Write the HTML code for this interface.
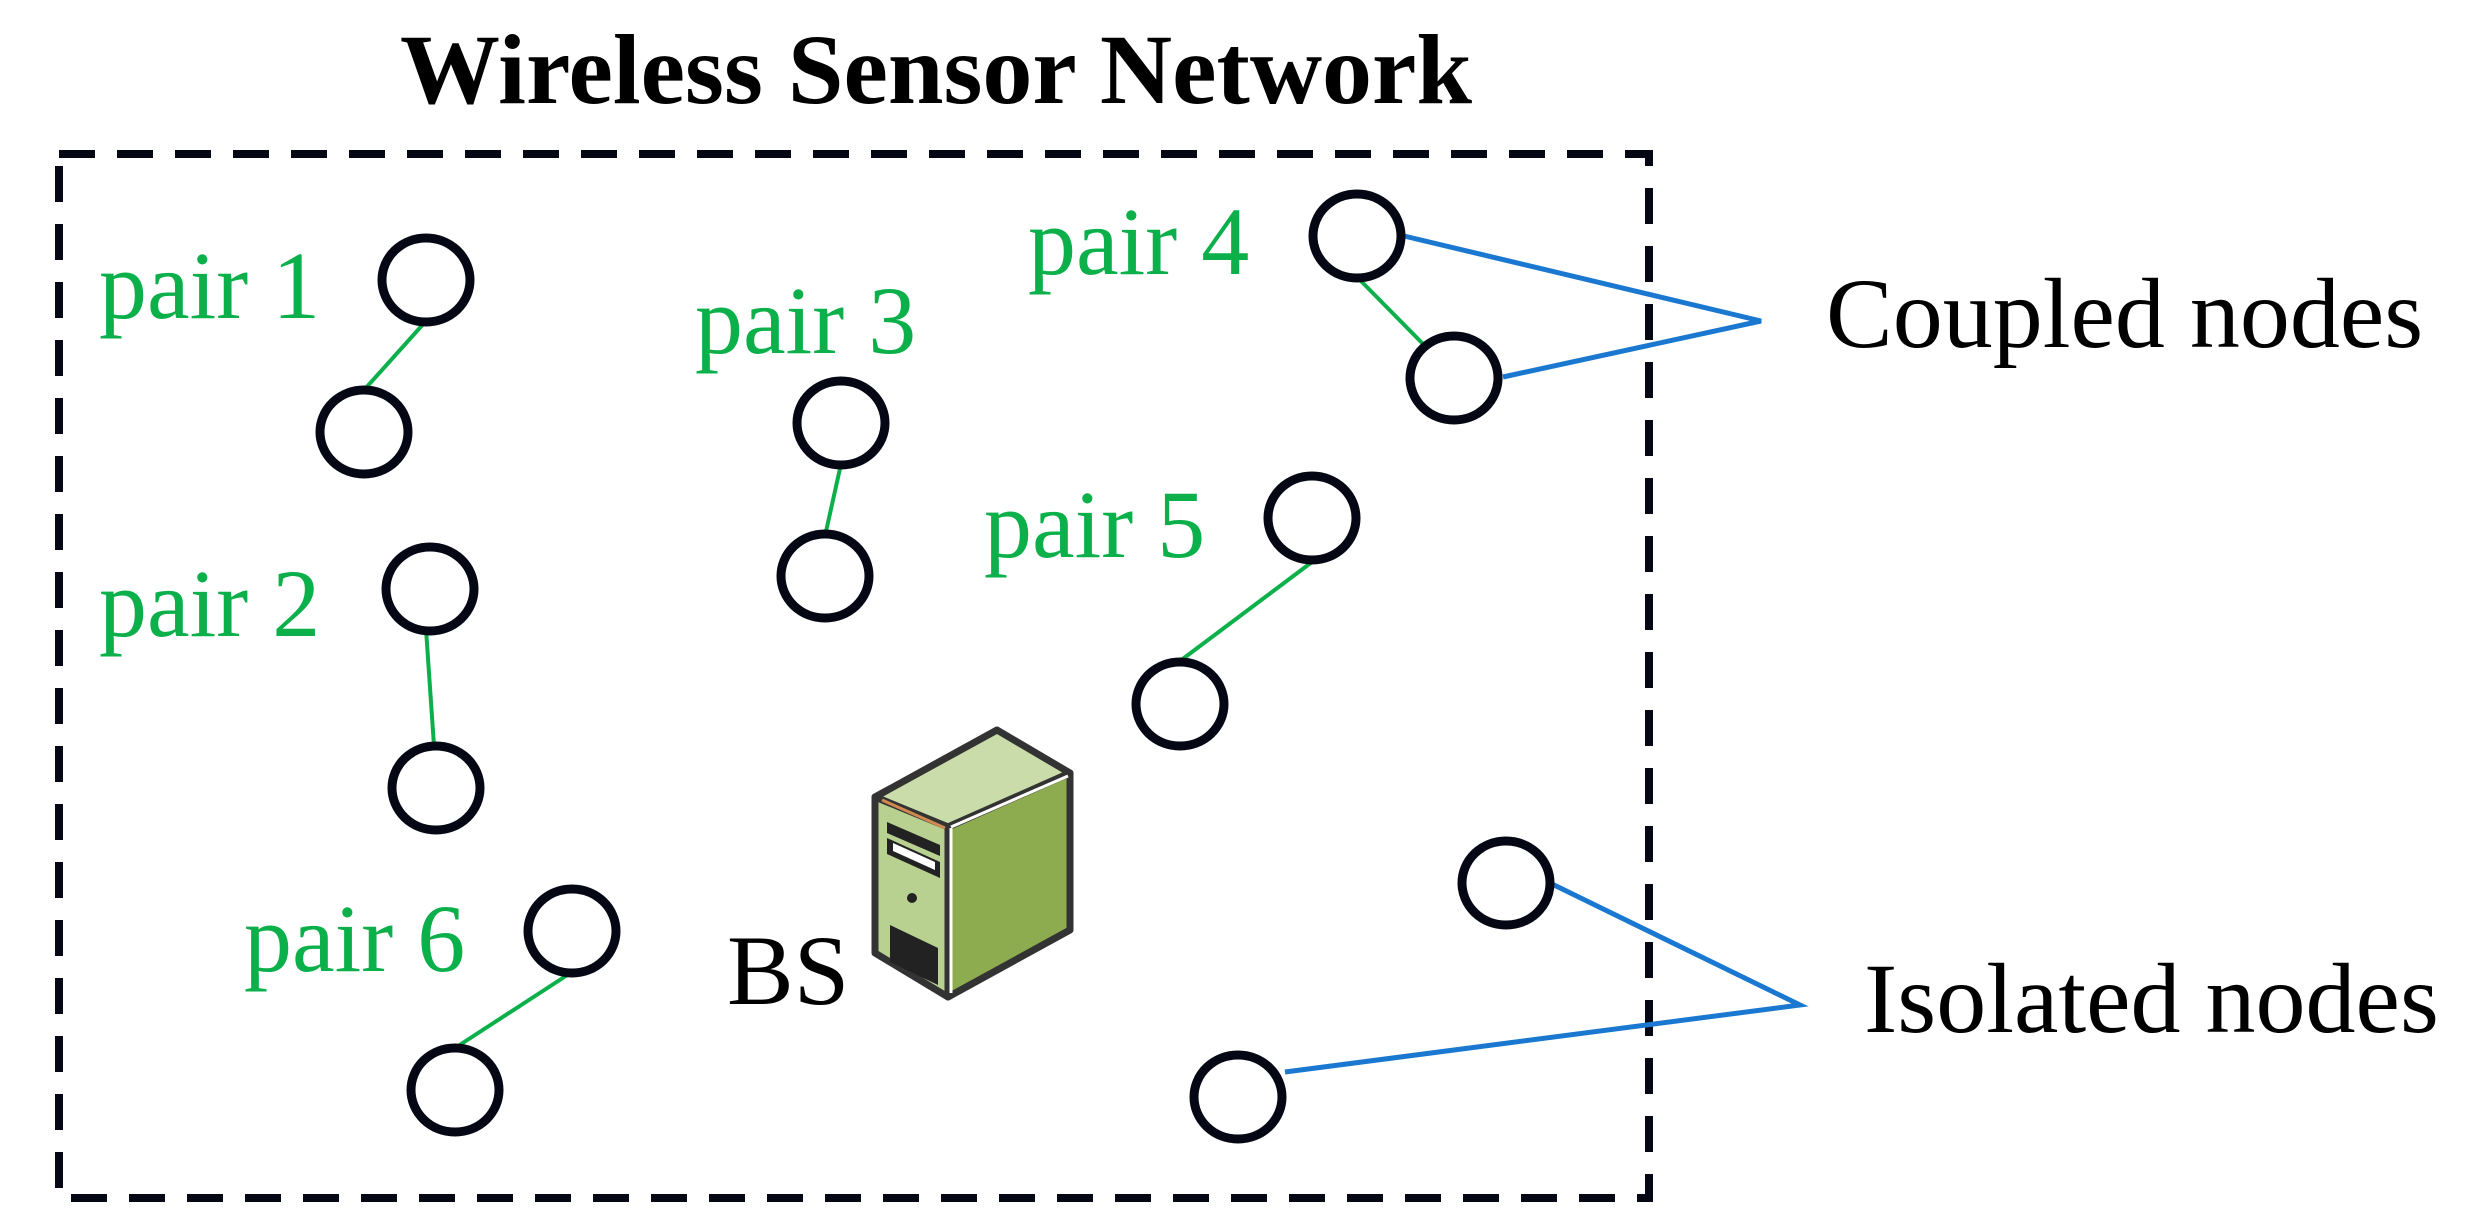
<!DOCTYPE html>
<html><head><meta charset="utf-8"><style>html,body{margin:0;padding:0;background:#fff}svg{display:block}</style></head>
<body>
<svg width="2484" height="1231" viewBox="0 0 2484 1231" xmlns="http://www.w3.org/2000/svg">
<rect width="2484" height="1231" fill="#fff"/>
<text x="936" y="103" text-anchor="middle" font-family="Liberation Serif, serif" font-weight="bold" font-size="100" textLength="1072" lengthAdjust="spacingAndGlyphs" fill="#000">Wireless Sensor Network</text>
<rect x="59" y="154" width="1590" height="1044" fill="none" stroke="#050814" stroke-width="8" stroke-dasharray="36 22"/>
<g stroke="#0bb04b" stroke-width="4">
<line x1="426" y1="321" x2="364" y2="390"/>
<line x1="841" y1="464" x2="825" y2="536"/>
<line x1="426" y1="629" x2="434" y2="746"/>
<line x1="572" y1="972" x2="455" y2="1048"/>
<line x1="1180" y1="661" x2="1312" y2="562"/>
<line x1="1358" y1="278" x2="1426" y2="347"/>
</g>
<g stroke="#1a78d0" stroke-width="5" fill="none">
<polyline points="1404,236 1761,321 1503,377"/>
<polyline points="1552,884 1800,1005 1285,1072"/>
</g>
<g fill="none" stroke="#050814" stroke-width="9">
<ellipse cx="426" cy="280" rx="44" ry="42"/>
<ellipse cx="364" cy="432" rx="44" ry="42"/>
<ellipse cx="841" cy="423" rx="44" ry="42"/>
<ellipse cx="825" cy="576" rx="44" ry="42"/>
<ellipse cx="430" cy="589" rx="44" ry="42"/>
<ellipse cx="436" cy="788" rx="44" ry="42"/>
<ellipse cx="572" cy="931" rx="44" ry="42"/>
<ellipse cx="455" cy="1090" rx="44" ry="42"/>
<ellipse cx="1180" cy="704" rx="44" ry="42"/>
<ellipse cx="1312" cy="518" rx="44" ry="42"/>
<ellipse cx="1357" cy="236" rx="44" ry="42"/>
<ellipse cx="1454" cy="378" rx="44" ry="42"/>
<ellipse cx="1506" cy="883" rx="44" ry="42"/>
<ellipse cx="1238" cy="1097" rx="44" ry="42"/>
</g>
<g font-family="Liberation Serif, serif" font-size="96" fill="#0bb04b">
<text x="99" y="318">pair 1</text>
<text x="99" y="636">pair 2</text>
<text x="695" y="353">pair 3</text>
<text x="1028" y="274">pair 4</text>
<text x="984" y="557">pair 5</text>
<text x="244" y="971">pair 6</text>
</g>
<g font-family="Liberation Serif, serif" font-size="100" fill="#000">
<text x="727" y="1004">BS</text>
<text x="1826" y="347">Coupled nodes</text>
<text x="1864" y="1032">Isolated nodes</text>
</g>
<g stroke="#333" stroke-width="7" stroke-linejoin="round">
<polygon points="875,797 997,730 1070,773 948,827" fill="#c9dcaa"/>
<polygon points="875,797 948,827 948,997 875,953" fill="#b8d190"/>
<polygon points="948,827 1070,773 1070,930 948,997" fill="#8dac4f"/>
</g>
<line x1="951" y1="827" x2="1068" y2="776" stroke="#fff" stroke-width="3"/>
<line x1="951" y1="828" x2="951" y2="993" stroke="#fff" stroke-width="3"/>
<line x1="882" y1="800" x2="945" y2="828" stroke="#d08a50" stroke-width="3"/>
<g fill="#222">
<polygon points="887,822 940,845 940,856 887,833"/>
<polygon points="887,838 940,862 940,878 887,854"/>
<circle cx="912" cy="898" r="5"/>
<polygon points="890,925 938,948 938,985 890,962"/>
</g>
<polygon points="893,843 935,862 935,870 893,851" fill="#fff"/>
</svg>
</body></html>
